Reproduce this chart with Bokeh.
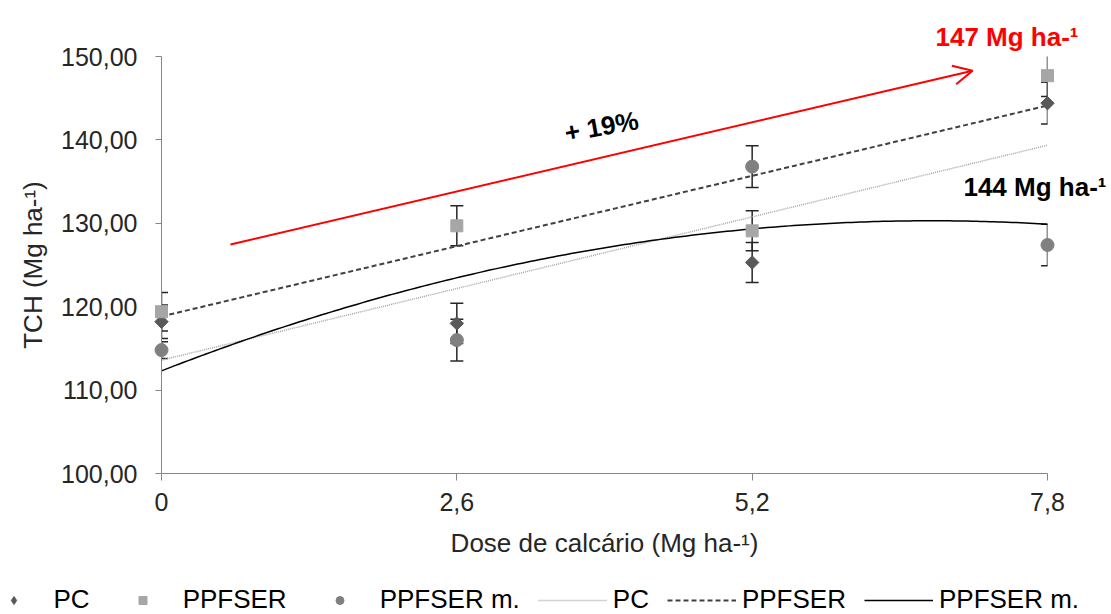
import numpy as np
from bokeh.plotting import figure
from bokeh.core.properties import value
from bokeh.models import (Range1d, FixedTicker, ColumnDataSource, Whisker, TeeHead,
                          Legend, LegendItem, Arrow, OpenHead)
from bokeh.embed import file_html
from bokeh.resources import INLINE

# ---- data ----
doses = [0, 2.6, 5.2, 7.8]
x_tick_labels = ["0", "2,6", "5,2", "7,8"]
y_ticks = [100, 110, 120, 130, 140, 150]
y_tick_labels = ["100,00", "110,00", "120,00", "130,00", "140,00", "150,00"]

pc = [118.2, 118.0, 125.3, 144.4]
pc_err = [2.0, 2.4, 2.4, 2.5]
ppfser = [119.4, 129.7, 129.1, 147.7]
ppfser_err = [2.3, 2.4, 2.4, 2.5]
ppfser_m = [114.8, 116.0, 136.8, 127.4]
ppfser_m_err = [1.0, 2.5, 2.5, 2.5]

series_names = ["PC", "PPFSER", "PPFSER m."]

FONT = "Liberation Sans"
TXT = "#262626"
AX = "#868686"

# styles
STY_PC_M = dict(marker="square", angle=np.pi / 4, size=9.5, fill_color="#595959", line_color="#595959")
STY_PC_K = dict(marker="diamond", size=11, fill_color="#595959", line_color="#595959")
STY_PF_M = dict(marker="square", size=12, fill_color="#a6a6a6", line_color="#a6a6a6")
STY_PF_K = dict(marker="square", size=10, fill_color="#a6a6a6", line_color="#a6a6a6")
STY_PM_M = dict(marker="circle", size=13, fill_color="#808080", line_color="#808080")
STY_PM_K = dict(marker="circle", size=11, fill_color="#808080", line_color="#808080")
STY_PC_L = dict(line_color="#a6a6a6", line_width=1.5, line_dash="1 1")
STY_PF_L = dict(line_color="#404040", line_width=2, line_dash="5 3")
STY_PM_L = dict(line_color="#000000", line_width=1.5)

p = figure(width=1111, height=578, x_range=Range1d(0, 7.8), y_range=Range1d(100, 150),
           output_backend="svg", toolbar_location=None,
           min_border_left=161, min_border_right=64, min_border_top=56, min_border_bottom=105)
p.outline_line_color = None
p.xgrid.visible = False
p.ygrid.visible = False

# axes
p.xaxis.ticker = FixedTicker(ticks=doses)
p.xaxis.major_label_overrides = {d: l for d, l in zip(doses, x_tick_labels)}
p.yaxis.ticker = FixedTicker(ticks=y_ticks)
p.yaxis.major_label_overrides = {t: l for t, l in zip(y_ticks, y_tick_labels)}
for ax in (p.xaxis, p.yaxis):
    ax.axis_line_color = AX
    ax.major_tick_line_color = AX
    ax.minor_tick_line_color = None
    ax.major_tick_in = 0
    ax.major_label_text_font = FONT
    ax.major_label_text_font_size = "25px"
    ax.major_label_text_color = TXT
    ax.axis_label_text_font = FONT
    ax.axis_label_text_font_size = "26px"
    ax.axis_label_text_font_style = "normal"
    ax.axis_label_text_color = TXT
p.xaxis.major_tick_out = 7
p.yaxis.major_tick_out = 6
p.yaxis.major_label_standoff = 18
p.xaxis.major_label_standoff = 12
p.xaxis.axis_label = "Dose de calcário (Mg ha-¹)"
p.yaxis.axis_label = "TCH (Mg ha-¹)"
p.xaxis.axis_label_standoff = 14
p.yaxis.axis_label_standoff = 10

# trend lines (regressions of the data, as in the source chart)
xs = np.linspace(0, 7.8, 200)
pc_fit = np.polyval(np.polyfit(doses, pc, 1), xs)
ppfser_fit = np.polyval(np.polyfit(doses, ppfser, 1), xs)
ppfser_m_fit = np.polyval(np.polyfit(doses, ppfser_m, 2), xs)

p.line(xs, pc_fit, **STY_PC_L)
p.line(xs, ppfser_fit, **STY_PF_L)
p.line(xs, ppfser_m_fit, **STY_PM_L)

# error bars
for vals, errs in ((pc, pc_err), (ppfser, ppfser_err), (ppfser_m, ppfser_m_err)):
    src = ColumnDataSource(dict(x=doses,
                                upper=[v + e for v, e in zip(vals, errs)],
                                lower=[v - e for v, e in zip(vals, errs)]))
    w = Whisker(base="x", upper="upper", lower="lower", source=src,
                line_color="#262626", line_width=1.5,
                upper_head=TeeHead(size=13, line_color="#262626", line_width=1.5),
                lower_head=TeeHead(size=13, line_color="#262626", line_width=1.5))
    p.add_layout(w)

# markers
p.scatter(doses, pc, level="overlay", **STY_PC_M)
p.scatter(doses, ppfser, level="overlay", **STY_PF_M)
p.scatter(doses, ppfser_m, level="overlay", **STY_PM_M)

# annotations
p.add_layout(Arrow(end=OpenHead(size=19, line_color="red", line_width=2),
                   x_start=0.607, y_start=127.46, x_end=7.14, y_end=148.3,
                   line_color="red", line_width=2))
txt_common = dict(text_font=value(FONT), text_font_size="26px", text_font_style="bold",
                  level="overlay")
p.text(x=[3.874], y=[141.6], text=["+ 19%"], angle=0.18, text_align="center",
       text_baseline="middle", text_color="#000000", **txt_common)
p.text(x=[6.814], y=[152.3], text=["147 Mg ha-¹"], text_baseline="alphabetic",
       text_color="#ff0000", **txt_common)
p.text(x=[7.06], y=[134.4], text=["144 Mg ha-¹"], text_baseline="alphabetic",
       text_color="#000000", **txt_common)

# legend strip (separate root below the chart)
q = figure(width=1111, height=36, x_range=Range1d(0, 1), y_range=Range1d(0, 1),
           x_axis_type=None, y_axis_type=None,
           output_backend="svg", toolbar_location=None, min_border=0,
           min_border_left=0, min_border_right=0, min_border_top=0, min_border_bottom=0)
q.xgrid.visible = False
q.ygrid.visible = False
q.outline_line_color = None
# legend keys: off-range placeholders so only the legend glyphs show
k1 = q.scatter([-1], [-1], **STY_PC_K)
k2 = q.scatter([-1], [-1], **STY_PF_K)
k3 = q.scatter([-1], [-1], **STY_PM_K)
k4 = q.line([-2, -1], [-1, -1], **STY_PC_L)
k5 = q.line([-2, -1], [-1, -1], **STY_PF_L)
k6 = q.line([-2, -1], [-1, -1], **STY_PM_L)
leg = Legend(items=[LegendItem(label=series_names[0], renderers=[k1]),
                    LegendItem(label=series_names[1], renderers=[k2]),
                    LegendItem(label=series_names[2], renderers=[k3]),
                    LegendItem(label=series_names[0], renderers=[k4]),
                    LegendItem(label=series_names[1], renderers=[k5]),
                    LegendItem(label=series_names[2], renderers=[k6])],
             orientation="horizontal", location=(-21.5, -1), padding=0, margin=0,
             border_line_color=None, background_fill_alpha=0,
             label_text_font=FONT, label_text_font_size="26px", label_text_color="#000000",
             glyph_width=69, glyph_height=20, label_height=20, label_standoff=6, spacing=18)
q.add_layout(leg)

open("out.html", "w").write(file_html((p, q), INLINE))
